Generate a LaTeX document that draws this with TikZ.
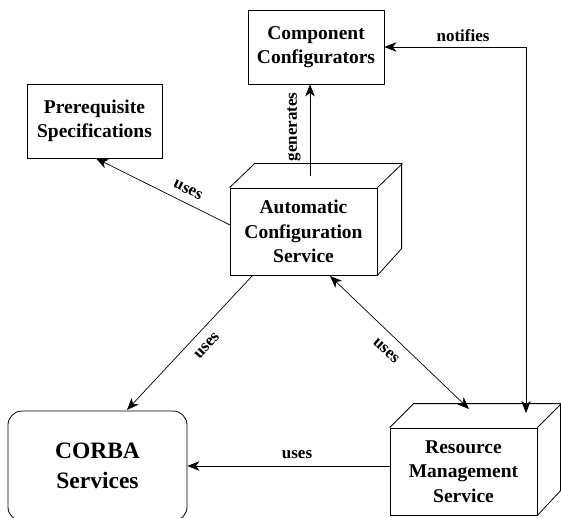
\documentclass[tikz,border=0pt]{standalone}
\usepackage{fontspec}
\setmainfont{Liberation Serif}
\usetikzlibrary{arrows.meta,calc}
\begin{document}
\begin{tikzpicture}[x=1pt,y=-1pt,
  >={Stealth[length=12pt,width=9.5pt,inset=3.5pt]},
  box/.style={draw,line width=0.8pt,align=center,inner sep=0pt,
    font=\bfseries\fontsize{19.5}{24.5}\selectfont},
  bigbox/.style={box,rounded corners=14pt,
    font=\bfseries\fontsize{23.5}{30}\selectfont},
  face/.style={line width=0.8pt},
  lbl/.style={inner sep=0pt,font=\bfseries\fontsize{17}{20}\selectfont},
  arr/.style={line width=0.7pt,->},
  darr/.style={line width=0.7pt,<->},
]
\fill[white] (0,0) rectangle (561,518);
\useasboundingbox (0,0) rectangle (561,518);

% plain boxes
\node[box,minimum width=136pt,minimum height=74pt] (cc) at (316,47)
  {Component\\Configurators};
\node[box,minimum width=135pt,minimum height=74pt] (pre) at (94.5,121)
  {Prerequisite\\Specifications};
\node[bigbox,minimum width=179pt,minimum height=110pt] (corba) at (97.5,466)
  {CORBA\\Services};

% cube-shaped services: front face as node, top and side faces drawn after
\node[box,minimum width=147pt,minimum height=87pt] (acs) at (303.5,231.5)
  {Automatic\\Configuration\\Service};
\draw[face] (acs.north west) -- ++(25,-24) -- ++(147,0) -- ++(0,85) -- (acs.south east);
\draw[face] (acs.north east) -- ++(25,-24);

\node[box,minimum width=147pt,minimum height=87pt] (rms) at (463.5,471.5)
  {Resource\\Management\\Service};
\draw[face] (rms.north west) -- ++(24,-24) -- ++(147,0) -- ++(0,87) -- (rms.south east);
\draw[face] (rms.north east) -- ++(24,-24);

% connector end points on the box outlines
\coordinate (gen0) at (310,176);
\coordinate (pre0) at (230,225);
\coordinate (cor0) at (253,275);
\coordinate (cor1) at (127,410);
\coordinate (bi0) at (330,276);
\coordinate (bi1) at (469,409);
\coordinate (not1) at (526,413);
\coordinate (hor0) at (390,466);

% connectors
\draw[arr] (gen0) -- (gen0 |- cc.south);
\draw[arr] (pre0) -- ([xshift=1.5pt]pre.south);
\draw[arr] (cor0) -- (cor1);
\draw[darr] (bi0) -- (bi1);
\draw[darr] (cc.east) -| (not1);
\draw[arr] (hor0) -- (hor0 -| corba.east);

% connector labels
\node[lbl,rotate=90] (lgen) at (294,127) {generates};
\node[lbl] (lnot) at (463,36) {notifies};
\node[lbl,rotate=-26] (lpre) at (188,190) {uses};
\node[lbl,rotate=47] (lcor) at (207,346) {uses};
\node[lbl,rotate=-43] (lbi) at (386,351) {uses};
\node[lbl] (lhor) at (297,455) {uses};
\end{tikzpicture}
\end{document}
